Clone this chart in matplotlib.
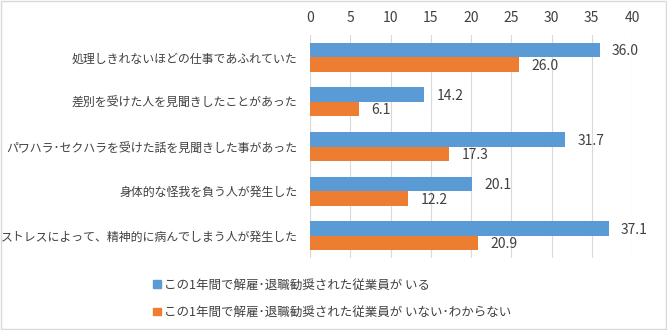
import matplotlib.pyplot as plt
from matplotlib.patches import Rectangle
import numpy as np

plt.rcParams['font.family'] = ['Noto Sans CJK JP', 'DejaVu Sans']

categories = [
    "処理しきれないほどの仕事であふれていた",
    "差別を受けた人を見聞きしたことがあった",
    "パワハラ･セクハラを受けた話を見聞きした事があった",
    "身体的な怪我を負う人が発生した",
    "ストレスによって、精神的に病んでしまう人が発生した",
]
dismissed = [36.0, 14.2, 31.7, 20.1, 37.1]
not_dismissed = [26.0, 6.1, 17.3, 12.2, 20.9]
series_names = [
    "この1年間で解雇･退職勧奨された従業員が いる",
    "この1年間で解雇･退職勧奨された従業員が いない･わからない",
]

blue = "#5B9BD5"
orange = "#ED7D31"
text_c = "#404040"

fig = plt.figure(figsize=(6.67, 3.30), dpi=100)
ax = fig.add_axes([0.465, 0.218, 0.4825, 0.676])

y = np.arange(len(categories))
h = 0.325
b1 = ax.barh(y - h / 2, dismissed, height=h, color=blue, label=series_names[0])
b2 = ax.barh(y + h / 2, not_dismissed, height=h, color=orange, label=series_names[1])

for bars, vals in ((b1, dismissed), (b2, not_dismissed)):
    for bar, v in zip(bars, vals):
        ax.text(v + 1.5, bar.get_y() + bar.get_height() / 2 + 0.03, f"{v:.1f}",
                va="center", ha="left", fontsize=10, color=text_c)

ax.set_xlim(0, 40)
ax.set_ylim(len(categories) - 0.5, -0.5)
ax.set_xticks(range(0, 41, 5))
ax.xaxis.tick_top()
ax.set_yticks(y)
ax.set_yticklabels(categories, fontsize=8.6, color=text_c)
ax.tick_params(axis="x", colors=text_c, labelsize=10, length=0, pad=7)
ax.tick_params(axis="y", length=0, pad=9)
ax.grid(axis="x", color="#D9D9D9", linewidth=0.8)
ax.set_axisbelow(True)
for s in ax.spines.values():
    s.set_visible(False)
ax.axvline(0, color="#D9D9D9", linewidth=0.8, zorder=0)

handles = [Rectangle((0, 0), 1, 1, color=blue), Rectangle((0, 0), 1, 1, color=orange)]
fig.legend(handles, series_names, loc="upper left", bbox_to_anchor=(0.213, 0.19),
           frameon=False, fontsize=9, handlelength=0.6, handleheight=0.6,
           handletextpad=0.25, labelspacing=1.15, labelcolor=text_c)

# light frame around the whole chart
fig.patches.append(Rectangle((0.002, 0.003), 0.996, 0.994, transform=fig.transFigure,
                             fill=False, edgecolor="#D9D9D9", linewidth=1))

fig.savefig("out.png", dpi=100)
